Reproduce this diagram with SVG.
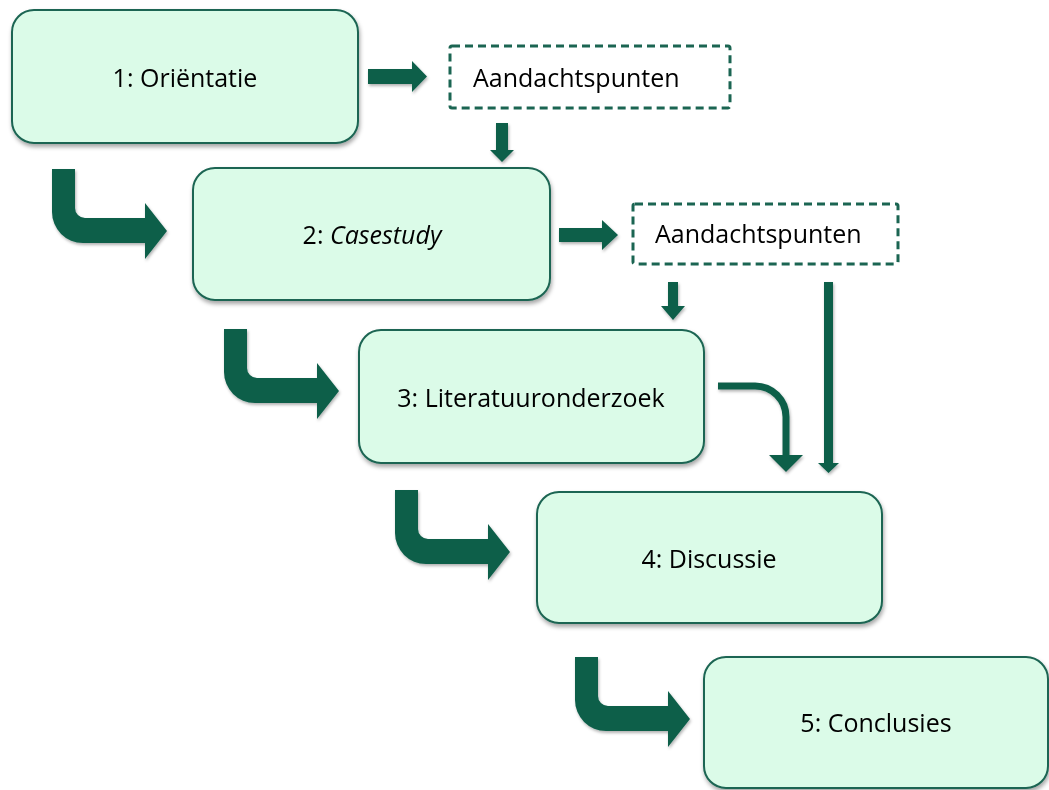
<svg xmlns="http://www.w3.org/2000/svg" xmlns:xlink="http://www.w3.org/1999/xlink" width="1049" height="790" viewBox="0 0 1049 790">
  <style>
    .box { fill: #dbfbe8; stroke: #1b6552; stroke-width: 2; }
    .dash { fill: #ffffff; stroke: #1b6552; stroke-width: 3; stroke-dasharray: 8 5; }
    .lbl { font-family: "Open Sans", "Liberation Sans", sans-serif; font-size: 25px; fill: #000000; }
    .mid { text-anchor: middle; }
    .arr { fill: #0e5e4a; }
  </style>
  <defs>
    <filter id="sh" x="-10%" y="-10%" width="125%" height="130%">
      <feDropShadow dx="1" dy="3" stdDeviation="2" flood-color="#000" flood-opacity="0.35"/>
    </filter>
    <filter id="sha" x="-20%" y="-20%" width="150%" height="150%">
      <feDropShadow dx="1" dy="2" stdDeviation="1.5" flood-color="#000" flood-opacity="0.3"/>
    </filter>
    <path id="bent" d="M0,0 h23 v39 a10,10 0 0 0 10,10 h60 v-15 l22,28 l-22,28 v-16 h-62 a31,31 0 0 1 -31,-31 z"/>
  </defs>
  <rect width="1049" height="790" fill="#ffffff"/>

  <g id="connectors" class="arr" filter="url(#sha)">
    <use xlink:href="#bent" href="#bent" transform="translate(52,169)"/>
    <use xlink:href="#bent" href="#bent" transform="translate(224,329)"/>
    <use xlink:href="#bent" href="#bent" transform="translate(395,490)"/>
    <use xlink:href="#bent" href="#bent" transform="translate(575,657)"/>
    <path d="M368,69 H412 V61 L427,76.5 L412,92 V84 H368 Z"/>
    <path d="M559,228 H602 V220 L618,235 L602,250 V242 H559 Z"/>
    <path d="M496,123 H508 V150 H514 L502,162 L490,150 H496 Z"/>
    <path d="M668,282 H678 V306 H685 L673,320 L661,306 H668 Z"/>
    <path d="M824,282 H833 V463 H839 L828.5,473 L818,463 H824 Z"/>
    <path d="M718,386 H755 A31,31 0 0 1 786,417 V456" fill="none" stroke="#0e5e4a" stroke-width="7"/>
    <polygon points="769,455 803,455 786,472"/>
  </g>

  <g id="node1">
    <rect class="box" x="12" y="10" width="346" height="133" rx="22" filter="url(#sh)"/>
    <text class="lbl mid" x="185" y="87">1: Oriëntatie</text>
  </g>
  <g id="attn1">
    <rect class="dash" x="450" y="46" width="280" height="62" rx="2"/>
    <text class="lbl" x="473" y="87">Aandachtspunten</text>
  </g>
  <g id="node2">
    <rect class="box" x="193" y="168" width="357" height="132" rx="22" filter="url(#sh)"/>
    <text class="lbl mid" x="372" y="244">2: <tspan font-style="italic">Casestudy</tspan></text>
  </g>
  <g id="attn2">
    <rect class="dash" x="633" y="204" width="265" height="60" rx="2"/>
    <text class="lbl" x="655" y="243">Aandachtspunten</text>
  </g>
  <g id="node3">
    <rect class="box" x="359" y="330" width="345" height="133" rx="22" filter="url(#sh)"/>
    <text class="lbl mid" x="531" y="407">3: Literatuuronderzoek</text>
  </g>
  <g id="node4">
    <rect class="box" x="537" y="492" width="345" height="131" rx="22" filter="url(#sh)"/>
    <text class="lbl mid" x="709" y="568">4: Discussie</text>
  </g>
  <g id="node5">
    <rect class="box" x="704" y="657" width="344" height="131" rx="22" filter="url(#sh)"/>
    <text class="lbl mid" x="876" y="732">5: Conclusies</text>
  </g>
</svg>
